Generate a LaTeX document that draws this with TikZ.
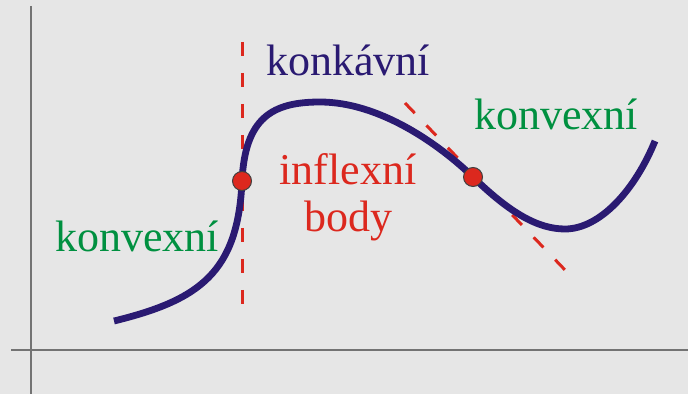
\documentclass[tikz,border=0pt]{standalone}
\usepackage{fontspec}
\setmainfont{Liberation Serif}
\definecolor{bgc}{HTML}{E6E6E6}
\definecolor{curvec}{HTML}{2A1A72}
\definecolor{greenc}{HTML}{009040}
\definecolor{redc}{HTML}{DC281E}
\tikzset{
  axis/.style={line width=1pt,draw=black!55},
  helper/.style={line width=1.5pt,draw=redc,dash pattern=on 7pt off 8.5pt},
  infl/.style={circle,fill=redc,draw=black!75,line width=.5pt,minimum size=9.5pt,inner sep=0pt},
  lab/.style={anchor=base,font=\fontsize{22}{23.5}\selectfont},
}
\begin{document}
\begin{tikzpicture}[x=.5pt,y=-.5pt]
  \fill[bgc] (0,0) rectangle (688,394);
  \useasboundingbox (0,0) rectangle (688,394);
  % axes
  \coordinate (ytop) at (31,6);
  \coordinate (ybot) at (31,394);
  \coordinate (xl) at (11,350);
  \coordinate (xr) at (688,350);
  \draw[axis] (ytop) -- (ybot);
  \draw[axis] (xl) -- (xr);
  % vertical tangent and slanted tangent
  \coordinate (v1) at (242,42);
  \coordinate (v2) at (242,313);
  \coordinate (t1) at (405,103);
  \coordinate (t2) at (565,270);
  \draw[helper] (v1) -- (v2);
  \draw[helper] (t1) -- (t2);
  % the curve
  \draw[line width=3.4pt,curvec]
    (114,321) .. controls (200,300) and (238,272) .. (242,181)
    .. controls (245,118) and (272,102) .. (320,102)
    .. controls (380,102) and (440,145) .. (473,177)
    .. controls (510,213) and (538,229) .. (565,229)
    .. controls (600,229) and (635,190) .. (655,141);
  % inflection points
  \node[infl] (p1) at (242,181) {};
  \node[infl] (p2) at (473,177) {};
  % labels
  \node[lab,text=curvec] (konk) at (348,76) {konkávní};
  \node[lab,text=greenc] (konvr) at (556,130) {konvexní};
  \node[lab,text=greenc] (konvl) at (137,252) {konvexní};
  \node[lab,text=redc,align=center] (body) at (348,232) {inflexní\\body};
\end{tikzpicture}
\end{document}
